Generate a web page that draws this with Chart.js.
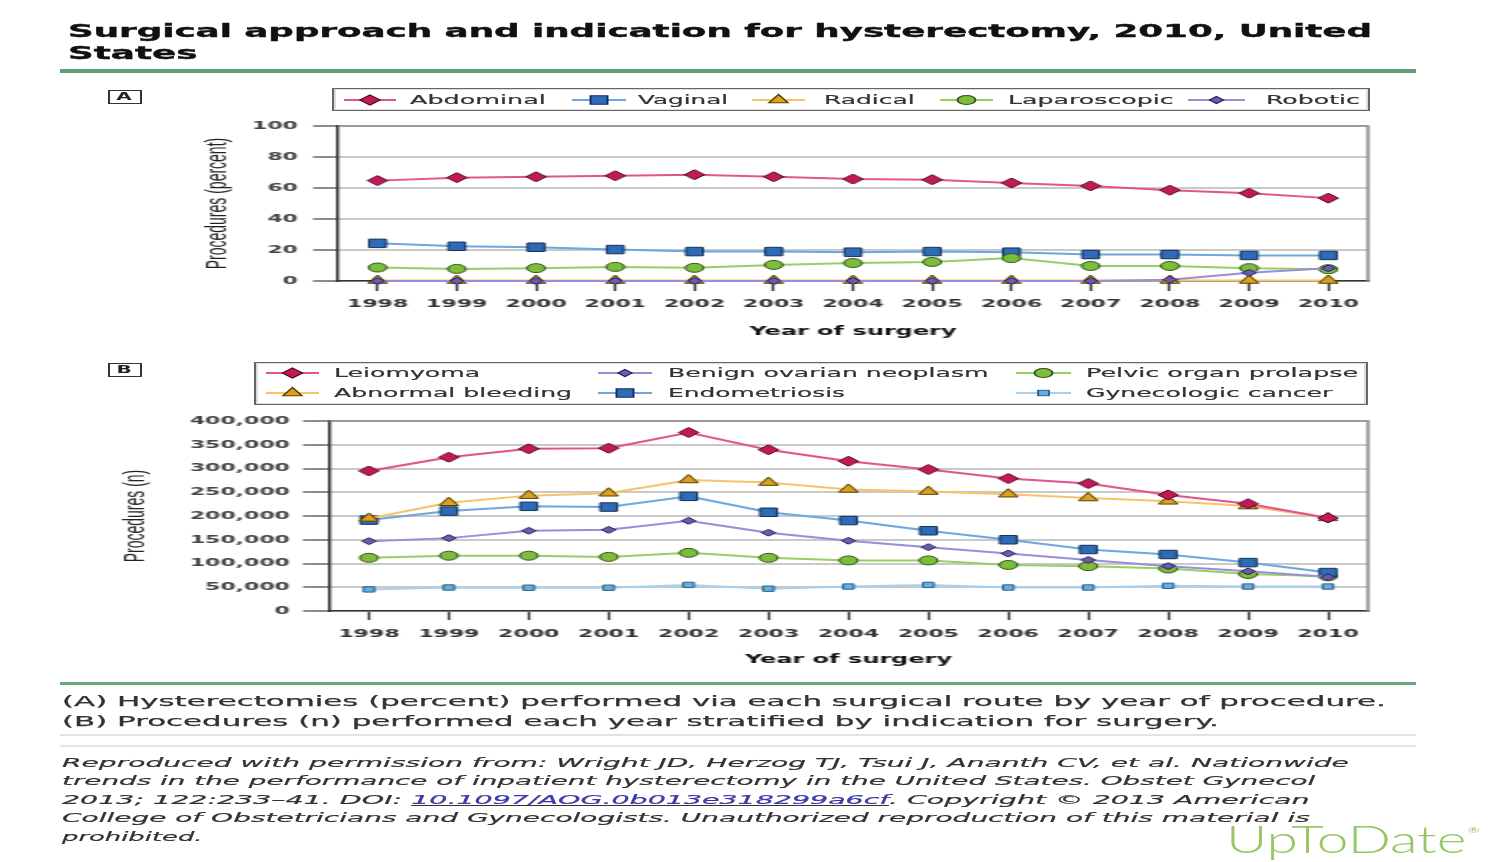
<!DOCTYPE html>
<html>
<head>
<meta charset="utf-8">
<script src="https://cdn.jsdelivr.net/npm/chart.js@4.4.0/dist/chart.umd.min.js"></script>
<style>
html,body{margin:0;padding:0;background:#fff;}
body{width:1500px;height:862px;overflow:hidden;position:relative;}
#page{position:absolute;left:0;top:0;width:750px;height:862px;transform:scaleX(2);transform-origin:0 0;font-family:"DejaVu Sans",Verdana,sans-serif;color:#222;}
.abs{position:absolute;white-space:nowrap;}
.fit{display:inline-block;transform-origin:0 50%;white-space:nowrap;}
.rule{position:absolute;left:30px;width:678px;}
.box{position:absolute;border:1.5px solid #666;box-shadow:inset 0 0 0 1px #ddd;background:#fff;}
.tag{position:absolute;width:15px;height:12px;border:1.5px solid #333;font:bold 10px "DejaVu Sans";line-height:12px;text-align:center;color:#222;}
.leg{position:absolute;font-size:13px;line-height:16px;color:#333;-webkit-text-stroke:0.2px #333;}
canvas{position:absolute;left:0;}
a{color:#3a3acc;text-decoration:underline;}
</style>
</head>
<body>
<div id="page">
  <div class="abs" style="left:34px;top:20px;font-weight:bold;font-size:18px;line-height:21.6px;color:#111;-webkit-text-stroke:0.4px #111;">
    <span class="fit" data-w="652">Surgical approach and indication for hysterectomy, 2010, United</span><br>
    <span class="fit" data-w="64.5">States</span>
  </div>
  <div class="rule" style="top:69px;height:4px;background:#5e9f74;"></div>

  <div class="tag" style="left:53.5px;top:90px;">A</div>
  <div class="box" style="left:165.5px;top:88px;width:517px;height:21px;"></div>
  <div id="legA"></div>
  <canvas id="chartA" width="750" height="236" style="top:112px;"></canvas>

  <div class="tag" style="left:53.5px;top:363px;">B</div>
  <div class="box" style="left:127px;top:362px;width:555px;height:41px;"></div>
  <div id="legB"></div>
  <canvas id="chartB" width="750" height="262" style="top:408px;"></canvas>

  <div class="rule" style="top:682px;height:2.5px;background:#6aa882;"></div>
  <div class="abs" style="left:31px;top:691px;font-size:14px;line-height:20px;color:#333;-webkit-text-stroke:0.25px #333;">
    <span class="fit" data-w="661.5">(A) Hysterectomies (percent) performed via each surgical route by year of procedure.</span><br>
    <span class="fit" data-w="578">(B) Procedures (n) performed each year stratified by indication for surgery.</span>
  </div>
  <div class="rule" style="top:734px;height:2px;background:#e2e2e2;"></div>
  <div class="rule" style="top:745px;height:2px;background:#e6e6e6;"></div>
  <div class="abs" style="left:31px;top:753.5px;font-size:13px;line-height:18.5px;font-style:italic;color:#333;-webkit-text-stroke:0.2px #333;">
    <span class="fit" data-w="643">Reproduced with permission from: Wright JD, Herzog TJ, Tsui J, Ananth CV, et al. Nationwide</span><br>
    <span class="fit" data-w="627">trends in the performance of inpatient hysterectomy in the United States. Obstet Gynecol</span><br>
    <span class="fit" data-w="624">2013; 122:233–41. DOI: <a>10.1097/AOG.0b013e318299a6cf</a>. Copyright © 2013 American</span><br>
    <span class="fit" data-w="624">College of Obstetricians and Gynecologists. Unauthorized reproduction of this material is</span><br>
    <span class="fit" data-w="70.5">prohibited.</span>
  </div>
  <div class="abs" style="left:612.5px;top:817px;font-family:Lato,'Open Sans',sans-serif;font-weight:300;font-size:37px;line-height:44px;color:#95c764;">
    <span class="fit" data-w="120">UpToDate</span>
  </div>
  <div class="abs" style="left:734px;top:826px;font-family:Lato,sans-serif;font-size:7px;color:#95c764;">®</div>
</div>

<script>
// ---------- DATA ----------
const years = ['1998','1999','2000','2001','2002','2003','2004','2005','2006','2007','2008','2009','2010'];

// Panel A: surgical approach (percent)
const approachNames = ['Abdominal','Vaginal','Radical','Laparoscopic','Robotic'];
const abdominal    = [64.8, 66.7, 67.3, 67.9, 68.6, 67.3, 65.8, 65.4, 63.3, 61.4, 58.6, 56.7, 53.5];
const vaginal      = [24.3, 22.4, 21.8, 20.3, 19.0, 19.0, 18.6, 19.0, 18.6, 17.1, 17.1, 16.5, 16.5];
const radical      = [0.3, 0.3, 0.3, 0.3, 0.3, 0.3, 0.3, 0.3, 0.3, 0.3, 0.3, 0.3, 0.3];
const laparoscopic = [8.7, 7.8, 8.3, 9.1, 8.5, 10.4, 11.6, 12.3, 14.8, 9.7, 9.7, 8.3, 7.6];
const robotic      = [0, 0, 0, 0, 0, 0, 0, 0, 0, 0, 0.8, 5.3, 8.2];
const yTicksA = [0, 20, 40, 60, 80, 100];

// Panel B: indication (procedures, n)
const indicationNames = ['Leiomyoma','Abnormal bleeding','Benign ovarian neoplasm','Endometriosis','Pelvic organ prolapse','Gynecologic cancer'];
const leiomyoma     = [295000, 324000, 341500, 343000, 376000, 339500, 315500, 298000, 279000, 268500, 244500, 226000, 196000];
const abnormalBleed = [195000, 228000, 243000, 248000, 276000, 270500, 256000, 251500, 246000, 238000, 231000, 221000, 196000];
const benignOvarian = [147000, 153500, 169000, 171000, 190000, 165000, 148000, 134500, 121000, 107500, 94500, 83500, 71500];
const endometriosis = [191500, 210500, 220500, 219000, 241500, 208000, 190500, 169000, 150000, 129500, 119000, 102000, 81000];
const prolapse      = [112000, 116500, 116500, 114000, 122500, 112000, 106500, 106500, 97000, 94500, 89500, 78000, 73000];
const gynCancer     = [45500, 49500, 49000, 49000, 55000, 47000, 51500, 55000, 49500, 49500, 53000, 51500, 51500];
const yTicksB = [0, 50000, 100000, 150000, 200000, 250000, 300000, 350000, 400000];

// ---------- STYLES ----------
const ST = {
  crimson: {line:'#e2558c', fill:'#c4185a', edge:'#4a0820', shape:'rectRot', r:5},
  blue:    {line:'#6ea6de', fill:'#2f6cb8', edge:'#15305a', shape:'rect',    r:6},
  gold:    {line:'#f5c46a', fill:'#dca21e', edge:'#5a4000', shape:'triangle',r:5.5},
  green:   {line:'#96d062', fill:'#7cbd3c', edge:'#34521a', shape:'circle',  r:4.5},
  purple:  {line:'#9a8ed8', fill:'#6a5cae', edge:'#251d55', shape:'rectRot', r:3.5},
  sky:     {line:'#a6d0ee', fill:'#6aaedf', edge:'#2f5f85', shape:'rect',    r:3.8}
};

function ds(label, data, st, order){
  return {label, data, borderColor: st.line, backgroundColor: st.fill,
    borderWidth: 2, pointStyle: st.shape, pointRadius: st.r, pointBorderWidth: 1,
    pointBackgroundColor: st.fill, pointBorderColor: st.edge, tension: 0, clip: false, order};
}

const frame = {
  id: 'frame',
  beforeDatasetsDraw(chart){
    const {ctx, chartArea: a} = chart;
    ctx.save();
    ctx.strokeStyle = '#8c8c8c'; ctx.lineWidth = 1.5;
    ctx.beginPath(); ctx.moveTo(a.left, a.top); ctx.lineTo(a.right, a.top); ctx.lineTo(a.right, a.bottom); ctx.stroke();
    ctx.restore();
  }
};

const tickFont = {family: '"DejaVu Sans"', size: 11, weight: 'bold'};
const titleFont = {family: '"DejaVu Sans"', size: 12, weight: 'bold'};
const yTitleFont = {family: '"Liberation Sans"', size: 14};

function makeOptions(cfg){
  return {
    responsive: false, animation: false, devicePixelRatio: 1,
    layout: {padding: {top: cfg.padTop, right: 66, left: 0, bottom: 0}},
    plugins: {legend: {display: false}, tooltip: {enabled: false}},
    scales: {
      x: {
        type: 'category', offset: true,
        grid: {drawOnChartArea: false, drawTicks: true, tickLength: cfg.xTick, offset: false, tickColor: '#333', tickWidth: 1.3},
        border: {display: true, color: '#333', width: 1.5},
        ticks: {font: tickFont, color: '#333', padding: cfg.xPad, maxRotation: 0, autoSkip: false},
        title: {display: true, text: 'Year of surgery', font: titleFont, color: '#111', padding: {top: 0, bottom: cfg.xTitlePad}},
        afterFit: s => { s.height = cfg.xHeight; }
      },
      y: {
        min: 0, max: cfg.yTicks[cfg.yTicks.length - 1],
        afterBuildTicks: s => { s.ticks = cfg.yTicks.map(v => ({value: v})); },
        grid: {color: '#c9c9c9', lineWidth: 2, drawTicks: true, tickLength: cfg.yTick, tickColor: '#666', tickWidth: 1.5},
        border: {display: true, color: '#333', width: 1.5},
        ticks: {font: tickFont, color: '#444', padding: cfg.yPad},
        title: {display: true, text: cfg.yTitle, font: yTitleFont, color: '#222', padding: {top: cfg.yTitlePad, bottom: 0}},
        afterFit: s => { s.width = cfg.yWidth; }
      }
    }
  };
}

new Chart(document.getElementById('chartA'), {
  type: 'line',
  data: {labels: years, datasets: [
    ds(approachNames[0], abdominal, ST.crimson, 5),
    ds(approachNames[1], vaginal, ST.blue, 4),
    ds(approachNames[2], radical, ST.gold, 2),
    ds(approachNames[3], laparoscopic, ST.green, 3),
    ds(approachNames[4], robotic, ST.purple, 1)
  ]},
  options: makeOptions({padTop: 11, xTick: 10, xPad: 7, xTitlePad: 9, xHeight: 67, yTicks: yTicksA,
    yTick: 12.5, yPad: 7.5, yTitle: 'Procedures (percent)', yTitlePad: 101, yWidth: 169}),
  plugins: [frame]
});

new Chart(document.getElementById('chartB'), {
  type: 'line',
  data: {labels: years, datasets: [
    ds(indicationNames[0], leiomyoma, ST.crimson, 1),
    ds(indicationNames[1], abnormalBleed, ST.gold, 2),
    ds(indicationNames[2], benignOvarian, ST.purple, 3),
    ds(indicationNames[3], endometriosis, ST.blue, 4),
    ds(indicationNames[4], prolapse, ST.green, 5),
    ds(indicationNames[5], gynCancer, ST.sky, 6)
  ]},
  options: makeOptions({padTop: 9, xTick: 9, xPad: 8, xTitlePad: 3, xHeight: 59, yTicks: yTicksB,
    yTick: 13, yPad: 6.5, yTitle: 'Procedures (n)', yTitlePad: 60, yWidth: 164.5}),
  plugins: [frame]
});

// ---------- LEGENDS (HTML) ----------
function icon(st, w){
  const h = 14, cx = w / 2, cy = 7, r = st.r;
  let m = '';
  if (st.shape === 'rectRot') m = `<polygon points="${cx},${cy-r} ${cx+r},${cy} ${cx},${cy+r} ${cx-r},${cy}"/>`;
  else if (st.shape === 'rect') { const s = r * Math.SQRT1_2; m = `<rect x="${cx-s}" y="${cy-s}" width="${2*s}" height="${2*s}"/>`; }
  else if (st.shape === 'triangle') m = `<polygon points="${cx},${cy-r} ${cx+r*0.866},${cy+r*0.5} ${cx-r*0.866},${cy+r*0.5}"/>`;
  else m = `<circle cx="${cx}" cy="${cy}" r="${r}"/>`;
  return `<svg width="${w}" height="${h}" style="position:absolute;top:0;left:0;overflow:visible"><line x1="0" y1="${cy}" x2="${w}" y2="${cy}" stroke="${st.line}" stroke-width="2"/><g fill="${st.fill}" stroke="${st.edge}" stroke-width="1">${m}</g></svg>`;
}
function addLegend(container, items){
  const el = document.getElementById(container);
  items.forEach(it => {
    const ic = document.createElement('div');
    ic.style.cssText = `position:absolute;left:${it.ix}px;top:${it.cy-7}px;width:${it.iw}px;height:14px;`;
    ic.innerHTML = icon(it.st, it.iw);
    el.appendChild(ic);
    const tx = document.createElement('div');
    tx.className = 'leg';
    tx.style.left = it.tx + 'px'; tx.style.top = (it.cy - 8) + 'px';
    tx.innerHTML = `<span class="fit" data-w="${it.tw}">${it.name}</span>`;
    el.appendChild(tx);
  });
}
addLegend('legA', [
  {name: approachNames[0], st: ST.crimson, ix: 171.5, iw: 26, tx: 205,   tw: 67.5, cy: 99.5},
  {name: approachNames[1], st: ST.blue,    ix: 285.5, iw: 27, tx: 319,   tw: 45.5, cy: 99.5},
  {name: approachNames[2], st: ST.gold,    ix: 376,   iw: 26.5, tx: 411.5, tw: 45, cy: 99.5},
  {name: approachNames[3], st: ST.green,   ix: 470,   iw: 26.5, tx: 503.5, tw: 82.5, cy: 99.5},
  {name: approachNames[4], st: ST.purple,  ix: 594,   iw: 28.5, tx: 632.5, tw: 46.5, cy: 99.5}
]);
addLegend('legB', [
  {name: indicationNames[0], st: ST.crimson, ix: 132.5, iw: 26.5, tx: 166.5, tw: 73.5,  cy: 373},
  {name: indicationNames[1], st: ST.gold,    ix: 132.5, iw: 26.5, tx: 166.5, tw: 119,   cy: 393},
  {name: indicationNames[2], st: ST.purple,  ix: 298.5, iw: 27,   tx: 333.5, tw: 160.5, cy: 373},
  {name: indicationNames[3], st: ST.blue,    ix: 298.5, iw: 27,   tx: 333.5, tw: 89,    cy: 393},
  {name: indicationNames[4], st: ST.green,   ix: 508,   iw: 27.5, tx: 543,   tw: 136,   cy: 373},
  {name: indicationNames[5], st: ST.sky,     ix: 508,   iw: 27.5, tx: 543,   tw: 123.5, cy: 393}
]);

// fit text widths
document.querySelectorAll('.fit').forEach(el => {
  const w = parseFloat(el.dataset.w), a = el.offsetWidth;
  if (a > 0) el.style.transform = `scaleX(${w / a})`;
});
</script>
</body>
</html>
